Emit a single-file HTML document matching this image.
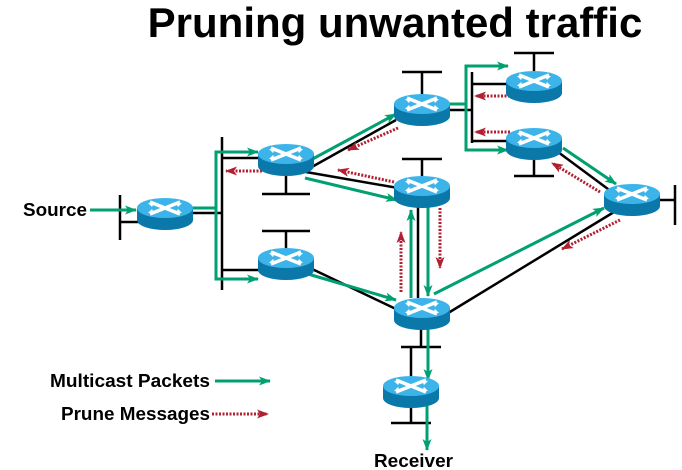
<!DOCTYPE html>
<html><head><style>
html,body{margin:0;padding:0;background:#fff;}
svg{display:block;font-family:"Liberation Sans",Arial,sans-serif;}
</style></head><body>
<svg width="682" height="470" viewBox="0 0 682 470" xmlns="http://www.w3.org/2000/svg">
<defs>
<marker id="ga" markerWidth="12" markerHeight="9" refX="11" refY="4.5" orient="auto" markerUnits="userSpaceOnUse"><path d="M0,0 L12,4.5 L0,9 L3,4.5Z" fill="#00a070"/></marker>
<marker id="ra" markerWidth="12" markerHeight="9" refX="11" refY="4.5" orient="auto" markerUnits="userSpaceOnUse"><path d="M0,0 L12,4.5 L0,9 L3,4.5Z" fill="#b02030"/></marker>
<g id="rt">
<path d="M-28,-4 L-28,8 A28,10 0 0 0 28,8 L28,-4Z" fill="#0a78a8"/>
<ellipse cx="0" cy="-4" rx="28" ry="10" fill="#3cb4ea"/>
<path d="M-15,-10 L15,2 M15,-10 L-15,2" stroke="#fff" stroke-width="3.5"/>
<path d="M-17,-9 l6,0 l-2,4Z M17,-9 l-6,0 l2,4Z M-17,1 l6,0 l-2,-4Z M17,1 l-6,0 l2,-4Z" fill="#fff"/>
</g>
</defs>
<text x="395" y="37" font-size="42" font-weight="bold" text-anchor="middle">Pruning unwanted traffic</text>

<g stroke="#000" stroke-width="2.5" fill="none">
<line x1="120" y1="195" x2="120" y2="240"/><line x1="120" y1="222" x2="140" y2="222"/>
<line x1="190" y1="213" x2="222" y2="213"/>
<line x1="222" y1="137" x2="222" y2="290"/>
<line x1="222" y1="158" x2="260" y2="158"/><line x1="222" y1="270" x2="260" y2="270"/>
<line x1="286" y1="170" x2="286" y2="194"/><line x1="262" y1="194" x2="310" y2="194"/>
<line x1="262" y1="231" x2="310" y2="231"/><line x1="286" y1="231" x2="286" y2="252"/>
<line x1="402" y1="72" x2="442" y2="72"/><line x1="422" y1="72" x2="422" y2="96"/>
<line x1="402" y1="159" x2="442" y2="159"/><line x1="422" y1="159" x2="422" y2="178"/>
<line x1="514" y1="53" x2="554" y2="53"/><line x1="534" y1="53" x2="534" y2="73"/>
<line x1="534" y1="155" x2="534" y2="176"/><line x1="514" y1="176" x2="554" y2="176"/>
<line x1="659" y1="200" x2="675" y2="200"/><line x1="675" y1="185" x2="675" y2="225"/>
<line x1="401" y1="347" x2="441" y2="347"/><line x1="411" y1="347" x2="411" y2="380"/><line x1="421" y1="325" x2="421" y2="347"/>
<line x1="391" y1="423" x2="431" y2="423"/><line x1="411" y1="402" x2="411" y2="423"/>
<line x1="449" y1="110" x2="472" y2="110"/>
<line x1="472" y1="72" x2="472" y2="143"/>
<line x1="472" y1="84" x2="508" y2="84"/><line x1="472" y1="141" x2="508" y2="141"/>
<line x1="310" y1="168" x2="396" y2="120"/>
<line x1="306" y1="172" x2="398" y2="188"/>
<line x1="310" y1="268" x2="398" y2="310"/>
<line x1="418" y1="200" x2="418" y2="298"/>
<line x1="440" y1="318" x2="614" y2="212"/>
<line x1="558" y1="152" x2="612" y2="192"/>
</g>

<g stroke="#00a070" stroke-width="3" fill="none">
<line x1="90" y1="210" x2="136" y2="210" marker-end="url(#ga)"/>
<path d="M190,208 L216,208 L216,152 L258,152" marker-end="url(#ga)"/>
<path d="M216,208 L216,279 L258,279" marker-end="url(#ga)"/>
<line x1="307" y1="162" x2="396" y2="114" marker-end="url(#ga)"/>
<line x1="305" y1="178" x2="397" y2="200" marker-end="url(#ga)"/>
<line x1="308" y1="274" x2="396" y2="300" marker-end="url(#ga)"/>
<path d="M449,104 L466,104 L466,66 L508,66" marker-end="url(#ga)"/>
<path d="M466,104 L466,150 L508,150" marker-end="url(#ga)"/>
<line x1="563" y1="148" x2="616" y2="184" marker-end="url(#ga)"/>
<line x1="434" y1="294" x2="604" y2="208" marker-end="url(#ga)"/>
<line x1="411" y1="298" x2="411" y2="210" marker-end="url(#ga)"/>
<line x1="428" y1="205" x2="428" y2="296" marker-end="url(#ga)"/>
<line x1="428" y1="328" x2="428" y2="380" marker-end="url(#ga)"/>
<line x1="427" y1="406" x2="427" y2="450" marker-end="url(#ga)"/>
<line x1="215" y1="381" x2="270" y2="381" marker-end="url(#ga)"/>
</g>

<g stroke="#b02030" stroke-width="3" stroke-dasharray="2,1.5" fill="none">
<line x1="262" y1="171" x2="226" y2="171" marker-end="url(#ra)"/>
<line x1="398" y1="128" x2="348" y2="150" marker-end="url(#ra)"/>
<line x1="394" y1="182" x2="338" y2="170" marker-end="url(#ra)"/>
<line x1="510" y1="96" x2="475" y2="96" marker-end="url(#ra)"/>
<line x1="510" y1="132" x2="475" y2="132" marker-end="url(#ra)"/>
<line x1="600" y1="192" x2="552" y2="163" marker-end="url(#ra)"/>
<line x1="620" y1="220" x2="562" y2="249" marker-end="url(#ra)"/>
<line x1="401" y1="292" x2="401" y2="232" marker-end="url(#ra)"/>
<line x1="440" y1="208" x2="440" y2="268" marker-end="url(#ra)"/>
<line x1="212" y1="414" x2="268" y2="414" marker-end="url(#ra)"/>
</g>

<use href="#rt" x="165" y="212"/>
<use href="#rt" x="286" y="158"/>
<use href="#rt" x="286" y="262"/>
<use href="#rt" x="422" y="108"/>
<use href="#rt" x="422" y="190"/>
<use href="#rt" x="422" y="312"/>
<use href="#rt" x="411" y="390"/>
<use href="#rt" x="534" y="85"/>
<use href="#rt" x="534" y="142"/>
<use href="#rt" x="632" y="198"/>

<g font-size="18" font-weight="bold">
<text x="23" y="216" textLength="64" lengthAdjust="spacingAndGlyphs">Source</text>
<text x="50" y="387" textLength="160" lengthAdjust="spacingAndGlyphs">Multicast Packets</text>
<text x="61" y="420" textLength="149" lengthAdjust="spacingAndGlyphs">Prune Messages</text>
<text x="374" y="467" textLength="79" lengthAdjust="spacingAndGlyphs">Receiver</text>
</g>
</svg>
</body></html>
